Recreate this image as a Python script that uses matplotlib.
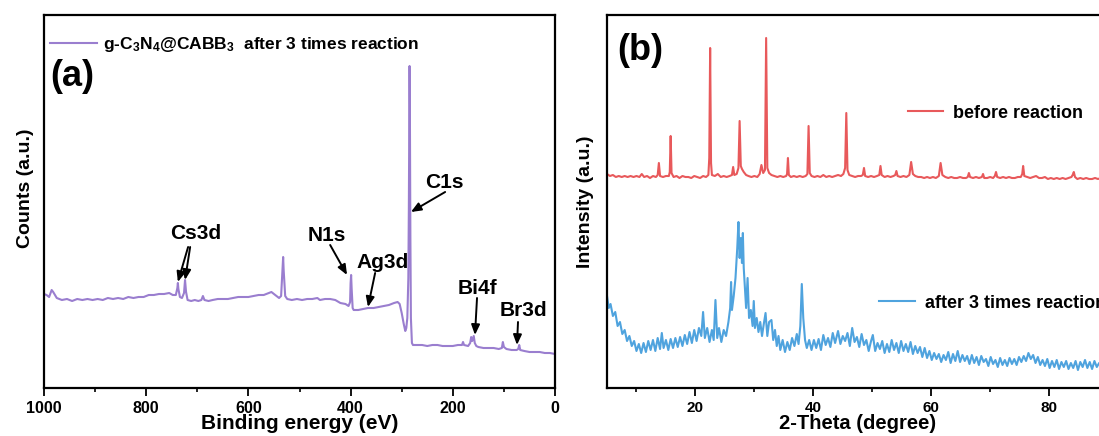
import matplotlib
matplotlib.use("Agg")
import matplotlib.pyplot as plt
from matplotlib.ticker import MultipleLocator

plt.rcParams['font.family'] = ['Liberation Sans', 'DejaVu Sans']
plt.rcParams['font.weight'] = 'bold'
plt.rcParams['mathtext.fontset'] = 'custom'
plt.rcParams['mathtext.rm'] = 'Liberation Sans:bold'
plt.rcParams['mathtext.it'] = 'Liberation Sans:bold'
plt.rcParams['mathtext.bf'] = 'Liberation Sans:bold'
plt.rcParams['mathtext.default'] = 'rm'

# ---------------- Panel (a): XPS survey ----------------
be_ev = [1000, 995, 990, 985, 982, 975, 965, 955, 945, 935, 925, 915, 905, 895, 885,
         875, 865, 855, 845, 835, 825, 815, 805, 795, 785, 775, 765, 755, 748, 742,
         739, 738, 737, 734, 730, 726, 724, 722, 719, 712, 705, 698, 692, 689, 686,
         678, 670, 660, 650, 640, 630, 620, 610, 600, 590, 580, 570, 560, 555, 550,
         545, 540, 536, 533, 532, 531, 528, 524, 515, 505, 495, 485, 475, 465, 460,
         450, 440, 430, 420, 410, 404, 401, 400, 399, 398, 396, 394, 385, 375, 366,
         355, 345, 335, 325, 315, 308, 304, 300, 296, 293, 291, 289, 287, 286, 285,
         284.6, 284, 283, 282, 280, 278, 270, 260, 250, 240, 230, 220, 210, 200, 190,
         182, 180, 178, 170, 166, 164, 162, 159, 157, 154, 150, 140, 130, 120, 110,
         104, 102, 100, 95, 85, 75, 72, 70, 68, 60, 50, 40, 30, 20, 10, 0]
xps_counts = [94, 93, 91, 98, 96, 90, 88, 89, 87, 89, 88, 89, 88, 89, 88,
              90, 89, 90, 89, 91, 90, 91, 91, 93, 93, 94, 94, 95, 93, 93,
              100, 105, 99, 91, 90, 95, 108, 96, 88, 87, 88, 87, 88, 92, 88,
              87, 88, 89, 89, 89, 90, 91, 91, 91, 92, 93, 93, 95, 96, 94,
              92, 90, 92, 120, 131, 118, 92, 89, 88, 89, 88, 89, 89, 90, 88,
              89, 89, 88, 85, 84, 82, 86, 105, 113, 100, 80, 78, 78, 79, 80,
              80, 81, 82, 83, 85, 86, 84, 75, 64, 57, 60, 70, 110, 180, 280,
              322, 280, 150, 70, 45, 43, 43, 43, 42, 43, 43, 42, 42, 42, 43,
              43, 46, 43, 42, 45, 51, 47, 52, 45, 42, 41, 40, 40, 40, 39,
              40, 46, 41, 39, 38, 38, 39, 43, 38, 37, 36, 36, 36, 35, 35, 34]

# ---------------- Panel (b): XRD ----------------
theta_before = [5.0, 5.5, 6.0, 6.5, 7.0, 7.5, 8.0, 8.5, 9.0, 9.5, 10.0, 10.5, 10.9, 11.3, 11.8,
                12.3, 12.8, 13.3, 13.6, 13.8, 14.0, 14.5, 15.0, 15.5, 15.65, 15.8, 15.95, 16.3, 16.8, 17.3,
                17.8, 18.3, 18.8, 19.3, 19.8, 20.3, 20.8, 21.3, 21.8, 22.2, 22.35, 22.5, 22.65, 22.8, 23.3,
                23.8, 24.3, 24.8, 25.3, 25.8, 26.2, 26.4, 26.6, 27.0, 27.3, 27.5, 27.7, 27.9, 28.2, 28.6,
                29.0, 29.5, 30.0, 30.5, 30.9, 31.2, 31.5, 31.8, 32.0, 32.2, 32.5, 32.9, 33.4, 33.9, 34.4,
                34.9, 35.4, 35.55, 35.7, 35.85, 36.2, 36.7, 37.2, 37.7, 38.2, 38.7, 39.0, 39.2, 39.4, 39.7,
                40.2, 40.7, 41.2, 41.7, 42.2, 42.7, 43.2, 43.7, 44.2, 44.7, 45.1, 45.4, 45.6, 45.8, 46.1,
                46.6, 47.1, 47.6, 48.1, 48.4, 48.6, 48.8, 49.3, 49.8, 50.3, 50.8, 51.2, 51.4, 51.6, 52.1,
                52.6, 53.1, 53.6, 53.9, 54.1, 54.3, 54.8, 55.3, 55.8, 56.3, 56.6, 56.9, 57.3, 57.8, 58.3,
                58.8, 59.3, 59.8, 60.3, 60.8, 61.3, 61.6, 61.9, 62.4, 62.9, 63.4, 63.9, 64.4, 64.9, 65.4,
                65.9, 66.2, 66.4, 66.6, 67.1, 67.6, 68.1, 68.6, 68.8, 69.0, 69.5, 70.0, 70.5, 70.8, 71.0,
                71.2, 71.7, 72.2, 72.7, 73.2, 73.7, 74.2, 74.7, 75.2, 75.45, 75.6, 75.8, 76.3, 76.8, 77.3,
                77.8, 78.3, 78.8, 79.3, 79.8, 80.3, 80.8, 81.3, 81.8, 82.3, 82.8, 83.3, 83.8, 84.0, 84.2,
                84.4, 84.8, 85.3, 85.8, 86.3, 86.8, 87.3, 87.8, 88.3, 88.8, 89.3, 90.0]
int_before = [214, 212, 213, 211, 212, 211, 212, 211, 212, 211, 212, 211, 214, 211, 212,
              210, 212, 211, 213, 225, 212, 211, 212, 212, 216, 252, 215, 211, 212, 210,
              212, 211, 211, 210, 212, 211, 210, 212, 211, 213, 230, 340, 225, 213, 212,
              214, 211, 212, 211, 212, 213, 221, 213, 214, 220, 267, 222, 219, 216, 213,
              212, 211, 212, 211, 214, 223, 215, 218, 350, 220, 215, 213, 212, 211, 212,
              211, 212, 214, 230, 213, 211, 212, 211, 212, 211, 212, 214, 262, 215, 212,
              211, 212, 211, 213, 211, 212, 211, 212, 213, 212, 214, 220, 275, 218, 213,
              212, 211, 212, 212, 213, 220, 212, 211, 212, 211, 212, 213, 222, 213, 211,
              212, 211, 212, 213, 217, 212, 211, 212, 211, 213, 226, 214, 212, 211, 211,
              210, 211, 210, 211, 210, 212, 225, 213, 211, 210, 211, 210, 210, 211, 210,
              210, 211, 215, 211, 210, 211, 210, 211, 214, 210, 210, 211, 210, 212, 216,
              211, 210, 211, 210, 211, 210, 210, 211, 211, 214, 222, 212, 211, 210, 211,
              212, 210, 210, 211, 209, 210, 209, 210, 209, 210, 209, 210, 211, 213, 216,
              211, 209, 210, 209, 210, 209, 209, 210, 209, 210, 209, 209]

theta_after = [5.0, 5.3, 5.6, 6.0, 6.4, 6.8, 7.2, 7.6, 8.0, 8.4, 8.8, 9.2, 9.6, 10.0, 10.4,
               10.8, 11.2, 11.6, 12.0, 12.4, 12.8, 13.2, 13.6, 14.0, 14.3, 14.6, 15.0, 15.4, 15.8, 16.2,
               16.6, 17.0, 17.4, 17.8, 18.2, 18.6, 19.0, 19.4, 19.8, 20.2, 20.6, 21.0, 21.3, 21.6, 22.0,
               22.4, 22.8, 23.1, 23.4, 23.7, 24.0, 24.4, 24.8, 25.2, 25.6, 25.9, 26.05, 26.2, 26.5, 26.8,
               27.1, 27.3, 27.5, 27.7, 27.9, 28.05, 28.2, 28.4, 28.6, 28.85, 29.1, 29.4, 29.7, 29.9, 30.1,
               30.4, 30.7, 31.0, 31.3, 31.6, 31.9, 32.2, 32.5, 32.9, 33.2, 33.5, 33.8, 34.1, 34.4, 34.8,
               35.2, 35.6, 36.0, 36.4, 36.8, 37.2, 37.5, 37.8, 38.05, 38.3, 38.6, 38.9, 39.3, 39.7, 40.1,
               40.5, 40.9, 41.3, 41.7, 42.1, 42.5, 42.9, 43.3, 43.7, 44.2, 44.6, 45.0, 45.4, 45.8, 46.2,
               46.6, 47.0, 47.4, 47.8, 48.2, 48.6, 49.0, 49.4, 49.8, 50.1, 50.5, 50.9, 51.3, 51.7, 52.1,
               52.5, 52.9, 53.3, 53.7, 54.1, 54.5, 54.9, 55.3, 55.7, 56.1, 56.5, 56.9, 57.3, 57.7, 58.1,
               58.5, 58.9, 59.3, 59.7, 60.1, 60.5, 60.9, 61.3, 61.7, 62.1, 62.5, 62.9, 63.3, 63.7, 64.1,
               64.5, 64.9, 65.3, 65.7, 66.1, 66.5, 66.9, 67.3, 67.7, 68.1, 68.5, 68.9, 69.3, 69.7, 70.1,
               70.5, 70.9, 71.3, 71.7, 72.1, 72.5, 72.9, 73.3, 73.7, 74.1, 74.5, 74.9, 75.3, 75.7, 76.1,
               76.5, 76.9, 77.3, 77.7, 78.1, 78.5, 78.9, 79.3, 79.7, 80.1, 80.5, 80.9, 81.3, 81.7, 82.1,
               82.5, 82.9, 83.3, 83.7, 84.1, 84.5, 84.9, 85.3, 85.7, 86.1, 86.5, 86.9, 87.3, 87.7, 88.1,
               88.5, 88.9, 89.3, 89.7, 90.0]
int_after = [92, 80, 84, 72, 76, 62, 66, 54, 58, 47, 52, 42, 47, 37, 44,
             35, 45, 36, 47, 38, 48, 37, 50, 39, 55, 40, 48, 38, 49, 40,
             50, 41, 51, 42, 53, 44, 56, 45, 58, 47, 60, 52, 76, 50, 60,
             46, 58, 48, 88, 50, 60, 46, 58, 52, 66, 80, 106, 78, 92, 110,
             140, 166, 130, 150, 125, 155, 120, 100, 80, 110, 70, 78, 62, 87, 60,
             70, 56, 66, 52, 64, 75, 52, 66, 68, 48, 58, 42, 52, 38, 48,
             36, 46, 38, 50, 42, 54, 44, 62, 104, 70, 48, 40, 48, 38, 48,
             40, 49, 38, 53, 43, 50, 41, 55, 45, 57, 44, 52, 47, 55, 42,
             60, 46, 51, 41, 54, 43, 48, 37, 47, 53, 37, 45, 39, 47, 35,
             44, 36, 48, 38, 45, 35, 47, 37, 44, 36, 46, 34, 42, 35, 41,
             31, 40, 30, 37, 28, 35, 29, 34, 26, 33, 28, 36, 25, 34, 27,
             37, 26, 33, 27, 32, 24, 33, 25, 31, 23, 32, 26, 29, 22, 31,
             24, 28, 21, 30, 23, 28, 22, 30, 24, 29, 23, 31, 26, 32, 27,
             35, 29, 33, 25, 31, 23, 28, 22, 29, 20, 27, 21, 28, 19, 26,
             21, 27, 19, 25, 20, 27, 18, 26, 21, 28, 20, 26, 19, 27, 21,
             25, 20, 26, 20, 24]

PURPLE = '#9A7ECF'
RED = '#E8595B'
BLUE = '#4FA3DE'

W, H = 1099, 436
fig = plt.figure(figsize=(W / 100, H / 100), dpi=100)

def fig_rect(x0, y0, x1, y1):
    return [x0 / W, 1 - y1 / H, (x1 - x0) / W, (y1 - y0) / H]

axa = fig.add_axes(fig_rect(44, 15, 555, 388))
axb = fig.add_axes(fig_rect(607, 15, 1108, 388))

for ax in (axa, axb):
    for s in ax.spines.values():
        s.set_linewidth(1.6)
    ax.set_yticks([])
    ax.tick_params(axis='x', which='major', direction='out', length=6, width=1.3, pad=3)
    ax.tick_params(axis='x', which='minor', direction='out', length=3, width=1.2)

# ---- panel a ----
axa.plot(be_ev, xps_counts, color=PURPLE, lw=1.5,
         label=r'g-C$_3$N$_4$@CABB$_3$  after 3 times reaction')
axa.set_xlim(1000, 0)
axa.set_ylim(0, 373)
axa.xaxis.set_major_locator(MultipleLocator(200))
axa.xaxis.set_minor_locator(MultipleLocator(100))
axa.tick_params(axis='x', labelsize=11.5)
for lab in axa.get_xticklabels():
    lab.set_fontweight('bold')
axa.set_xlabel('Binding energy (eV)', fontsize=15, fontweight='bold', va='center')
axa.xaxis.set_label_coords(0.5, -0.0965)
axa.set_ylabel('Counts (a.u.)', fontsize=14, fontweight='bold', va='center')
axa.yaxis.set_label_coords(-0.037, 0.536)
leg = axa.legend(loc='center left', bbox_to_anchor=(50 / W, 1 - 45 / H),
                 bbox_transform=fig.transFigure, frameon=False,
                 handlelength=2.7, handletextpad=0.35, borderpad=0, borderaxespad=0,
                 prop={'weight': 'bold', 'size': 12.5})
fig.text(72 / W, 1 - 77 / H, '(a)', fontsize=26, fontweight='bold', ha='center', va='center')

ann_kw = dict(fontsize=15, fontweight='bold', ha='center', va='center')
arrow_kw = dict(arrowstyle='-|>,head_length=0.6,head_width=0.25', color='black', lw=1.4,
                shrinkA=0, shrinkB=0)
axa.text(704, 155, 'Cs3d', **ann_kw)
axa.annotate('', xy=(738, 106), xytext=(718, 141), arrowprops=arrow_kw)
axa.annotate('', xy=(724, 108), xytext=(714, 141), arrowprops=arrow_kw)
axa.text(446, 153, 'N1s', **ann_kw)
axa.annotate('', xy=(407, 113), xytext=(440, 143), arrowprops=arrow_kw)
axa.text(338, 125, 'Ag3d', **ann_kw)
axa.annotate('', xy=(366, 81), xytext=(352, 115), arrowprops=arrow_kw)
axa.text(217, 206, 'C1s', **ann_kw)
axa.annotate('', xy=(282, 176), xytext=(215, 196), arrowprops=arrow_kw)
axa.text(151, 100, 'Bi4f', **ann_kw)
axa.annotate('', xy=(156.6, 53), xytext=(152.6, 90), arrowprops=arrow_kw)
axa.text(62, 78, 'Br3d', **ann_kw)
axa.annotate('', xy=(74.4, 43), xytext=(72.4, 66), arrowprops=arrow_kw)

# ---- panel b ----
l1, = axb.plot(theta_before, int_before, color=RED, lw=1.5, label='before reaction')
l2, = axb.plot(theta_after, int_after, color=BLUE, lw=1.5, label='after 3 times reaction')
axb.set_xlim(5, 90)
axb.set_ylim(0, 373)
axb.spines['right'].set_visible(False)
axb.xaxis.set_major_locator(MultipleLocator(20))
axb.xaxis.set_minor_locator(MultipleLocator(10))
axb.tick_params(axis='x', labelsize=11)
for lab in axb.get_xticklabels():
    lab.set_fontweight('bold')
axb.set_xlabel('2-Theta (degree)', fontsize=14.5, fontweight='bold', va='center')
axb.xaxis.set_label_coords(0.501, -0.094)
axb.set_ylabel('Intensity (a.u.)', fontsize=14, fontweight='bold', va='center')
axb.yaxis.set_label_coords(-0.042, 0.499)
lb1 = axb.legend(handles=[l1], loc='center left', bbox_to_anchor=(908 / W, 1 - 113 / H),
                 bbox_transform=fig.transFigure, frameon=False,
                 handlelength=1.94, handletextpad=0.55, borderpad=0, borderaxespad=0,
                 prop={'weight': 'bold', 'size': 13})
axb.add_artist(lb1)
lb2 = axb.legend(handles=[l2], loc='center left', bbox_to_anchor=(879 / W, 1 - 303 / H),
                 bbox_transform=fig.transFigure, frameon=False,
                 handlelength=2.0, handletextpad=0.55, borderpad=0, borderaxespad=0,
                 prop={'weight': 'bold', 'size': 13})
fig.text(640 / W, 1 - 50 / H, '(b)', fontsize=26, fontweight='bold', ha='center', va='center')

fig.savefig('out.png', dpi=100)
